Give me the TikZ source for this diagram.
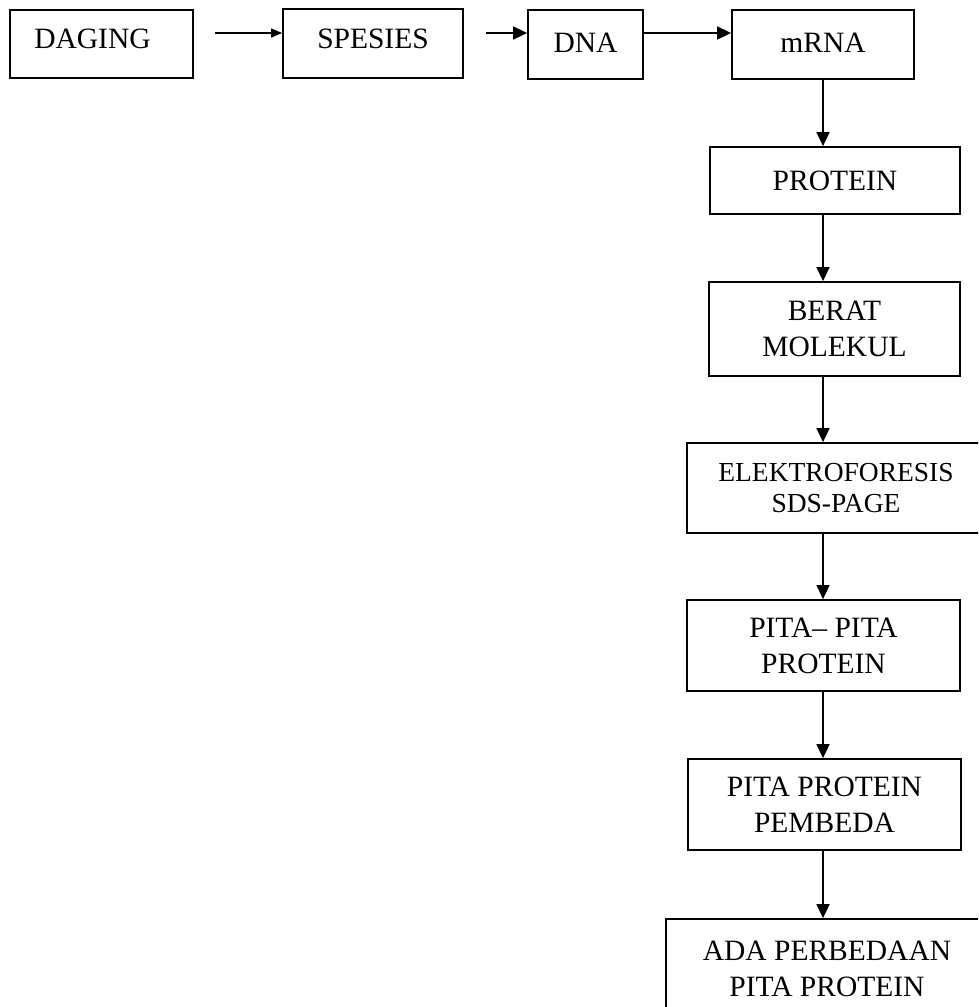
\documentclass[tikz,border=0pt]{standalone}
\usepackage{fontspec}
\setmainfont{Liberation Serif}
\usetikzlibrary{arrows.meta,calc}
\begin{document}
\begin{tikzpicture}[x=1pt,y=-1pt,
  box/.style={draw,line width=1.8pt,inner sep=0pt,align=center,
    font=\fontsize{29.5}{36}\selectfont},
  arr/.style={line width=1.6pt,-{Triangle[length=14pt,width=13pt]}},
  sarr/.style={line width=1.2pt,-{Triangle[length=11pt,width=9pt]}}]
\useasboundingbox (0,0) rectangle (978,1007);
\clip (0,0) rectangle (978,1007);
% top row
\node[box,minimum width=183pt,minimum height=68pt,text height=19.5pt,text depth=11.5pt] (daging) at (101.5,44) {DAGING\hspace*{18pt}};
\node[box,minimum width=180pt,minimum height=69pt,text height=19.5pt,text depth=10.5pt] (spesies) at (373,43.5) {SPESIES};
\node[box,minimum width=115pt,minimum height=69pt,text height=19.5pt,text depth=4.5pt] (dna) at (585.5,44.5) {DNA};
\node[box,minimum width=182pt,minimum height=69pt,text height=19.5pt,text depth=4.5pt] (mrna) at (823,44.5) {mRNA};
% column
\node[box,minimum width=250pt,minimum height=67pt] (protein) at (835,180.5) {PROTEIN};
\node[box,minimum width=251pt,minimum height=94pt] (berat) at (834.5,329) {BERAT\\MOLEKUL};
\node[box,minimum width=298pt,minimum height=90pt,font=\fontsize{27.5}{31.5}\selectfont] (elektro) at (836,488) {ELEKTROFORESIS\\SDS-PAGE};
\node[box,minimum width=273pt,minimum height=91pt] (pita) at (823.5,645.5) {PITA– PITA\\PROTEIN};
\node[box,minimum width=273pt,minimum height=91pt] (pembeda) at (824.5,804.5) {PITA PROTEIN\\PEMBEDA};
\node[box,minimum width=322pt,minimum height=100pt] (ada) at (827,969) {ADA PERBEDAAN\\PITA PROTEIN};
% horizontal arrows
\draw[sarr] ($(daging.east)+(21,-11)$) -- ($(spesies.west)+(0,-10.5)$);
\draw[arr] ($(spesies.east)+(22,-10.5)$) -- ($(dna.west)+(0,-11.5)$);
\draw[arr] ($(dna.east)+(0,-11.5)$) -- ($(mrna.west)+(0,-11.5)$);
% vertical arrows
\draw[arr] (mrna.south) -- (mrna.south |- protein.north);
\draw[arr] (protein.south -| mrna.south) -- (berat.north -| mrna.south);
\draw[arr] (berat.south -| mrna.south) -- (elektro.north -| mrna.south);
\draw[arr] (elektro.south -| mrna.south) -- (pita.north -| mrna.south);
\draw[arr] (pita.south -| mrna.south) -- (pembeda.north -| mrna.south);
\draw[arr] (pembeda.south -| mrna.south) -- (ada.north -| mrna.south);
\end{tikzpicture}
\end{document}
